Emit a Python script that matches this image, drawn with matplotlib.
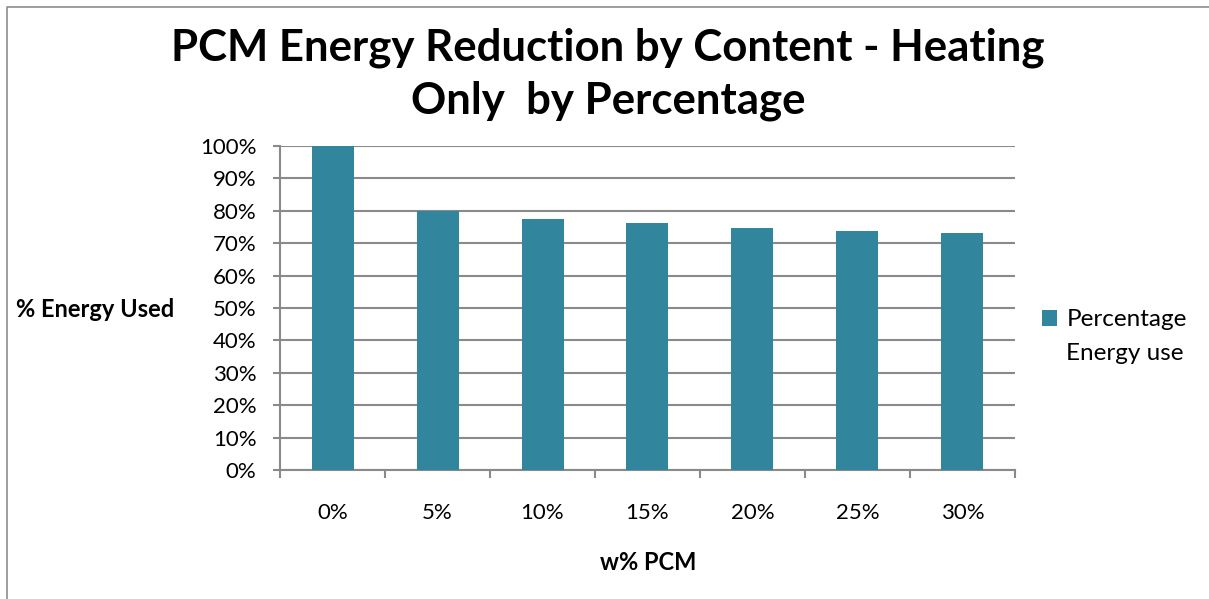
import matplotlib
matplotlib.use("Agg")
import matplotlib.pyplot as plt
from matplotlib.lines import Line2D
from matplotlib.ticker import FuncFormatter, FixedLocator

categories = ["0%", "5%", "10%", "15%", "20%", "25%", "30%"]
values = [100.0, 80.0, 77.4, 76.2, 74.8, 73.8, 73.3]
series_name = "Percentage\nEnergy use"
title = "PCM Energy Reduction by Content - Heating\nOnly  by Percentage"
xlabel = "w% PCM"
ylabel = "% Energy Used"

plt.rcParams['font.family'] = ['Lato', 'DejaVu Sans']
W, H = 1209, 599
fig = plt.figure(figsize=(W/100, H/100), dpi=100)
fig.lines.append(Line2D([6.5/W, 6.5/W, 1.0], [0.0, 1-6.5/H, 1-6.5/H], transform=fig.transFigure,
                        color="#8c8c8c", linewidth=1.2))

ax = fig.add_axes([280/W, 1-470/H, (1015-280)/W, (470-146)/H])
bar_color = "#31859C"
x = list(range(len(categories)))
first, second = series_name.split("\n")
ax.bar(x, values, width=0.4, color=bar_color, zorder=3, label=first)
ax.set_xlim(-0.5, len(categories)-0.5)
ax.set_ylim(0, 100)
ax.set_yticks(range(0, 101, 10))
ax.yaxis.set_major_formatter(FuncFormatter(lambda v, p: f"{int(v)}%"))
ax.grid(axis='y', color="#8a8a8a", linewidth=1.5, zorder=0)
for s in ['top', 'right']:
    ax.spines[s].set_visible(False)
for s in ['left', 'bottom']:
    ax.spines[s].set_color("#8a8a8a")
    ax.spines[s].set_linewidth(1.5)
ax.set_xticks(x)
ax.set_xticklabels(categories)
ax.tick_params(axis='x', which='major', length=0, labelsize=16, pad=24)
ax.xaxis.set_minor_locator(FixedLocator([i - 0.5 for i in range(len(categories)+1)]))
ax.tick_params(axis='x', which='minor', length=6, width=1.5, color="#8a8a8a")
ax.tick_params(axis='y', length=5, width=1.5, color="#8a8a8a", labelsize=16, pad=12)

fig.text(608/W, 1-74/H, title, ha='center', va='center', fontsize=31.5, fontweight='bold',
         linespacing=1.38)
fig.text(648/W, 1-562/H, xlabel, ha='center', va='center', fontsize=17, fontweight='bold')
fig.text(16/W, 1-309/H, ylabel, ha='left', va='center', fontsize=17, fontweight='bold')

leg = ax.legend(loc='center left', bbox_to_anchor=(1042/W, 1-320/H), bbox_transform=fig.transFigure,
                frameon=False, fontsize=17.5, handlelength=0.6, handleheight=0.6, handletextpad=0.4,
                borderpad=0, borderaxespad=0)
fig.canvas.draw()
txt = leg.get_texts()[0]
bb = txt.get_window_extent()
fig.text(bb.x0/W, 1-353/H, second, ha='left', va='center', fontsize=17.5)

fig.savefig("out.png", dpi=100)
